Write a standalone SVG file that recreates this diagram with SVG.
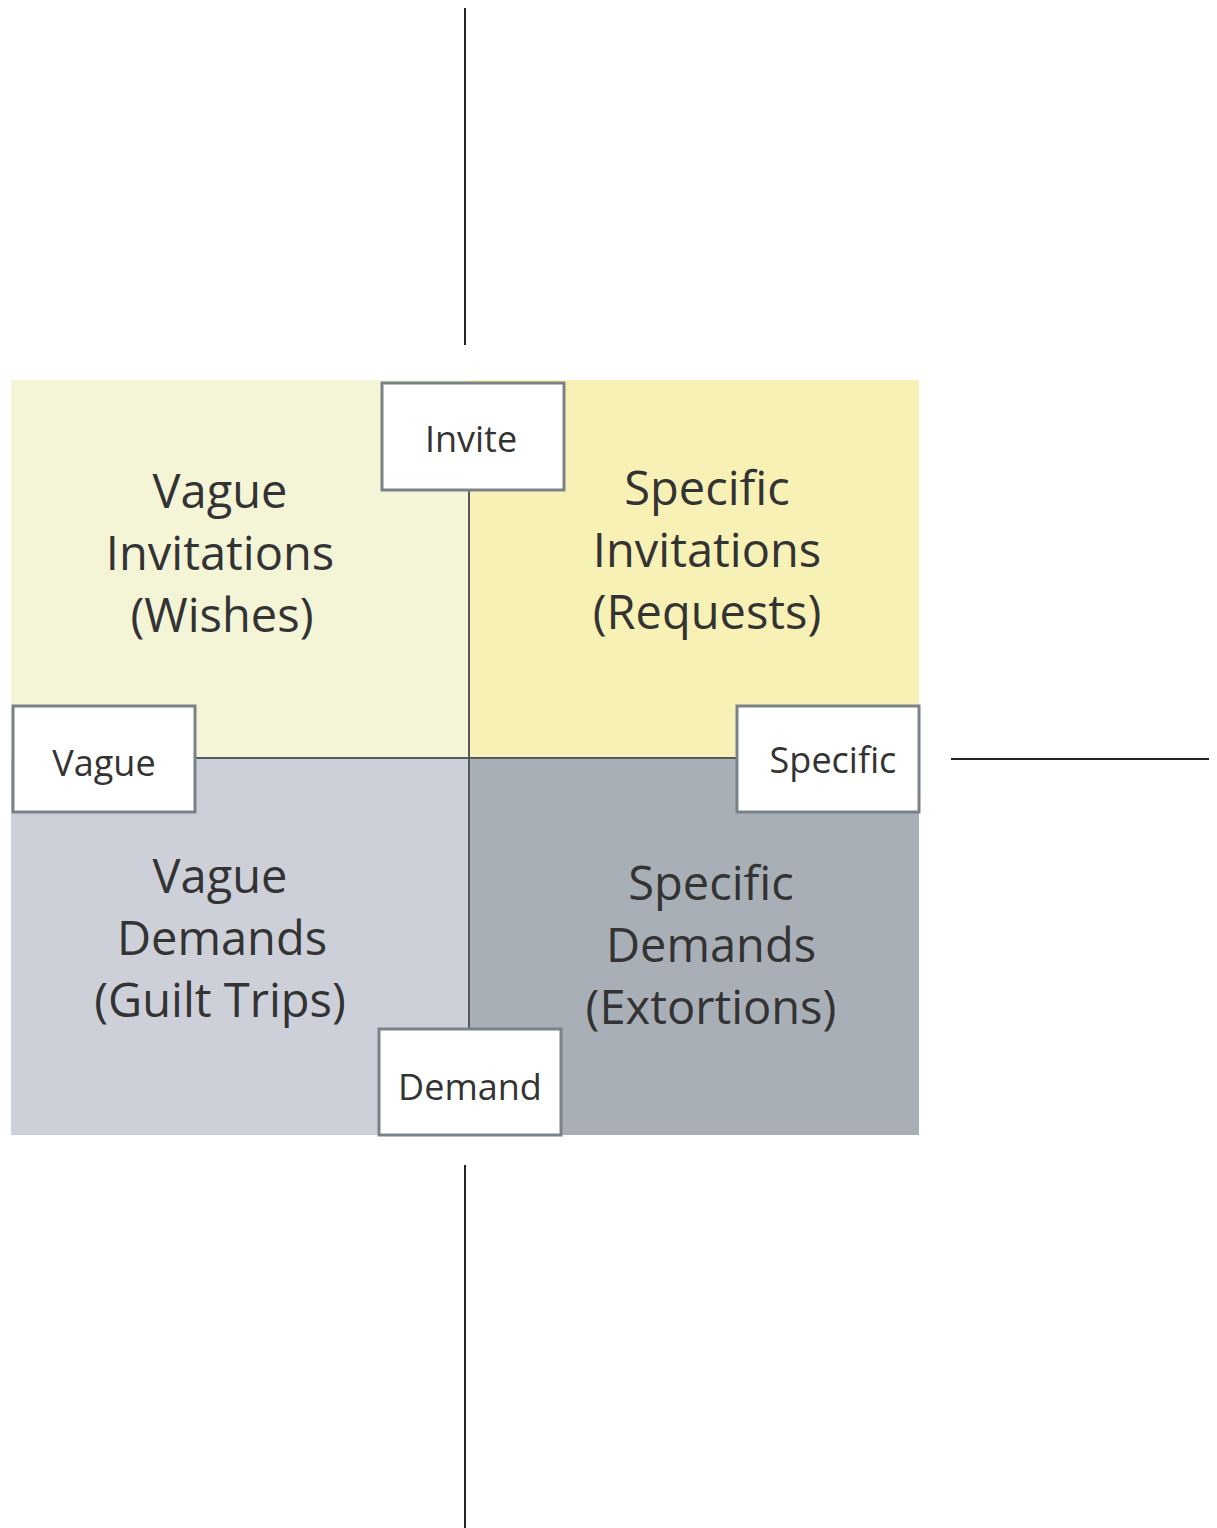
<svg xmlns="http://www.w3.org/2000/svg" width="1217" height="1528" viewBox="0 0 1217 1528">
<style>
.q{font-family:"Open Sans","Noto Sans",sans-serif;font-size:47px;fill:#333;text-anchor:middle}
.l{font-family:"Open Sans","Noto Sans",sans-serif;font-size:36px;fill:#333;text-anchor:middle}
.box{fill:#fff;stroke:#7b8287;stroke-width:3}
.inner{stroke:#555a5e;stroke-width:2;fill:none}
.outer{stroke:#222;stroke-width:2;fill:none}
</style>
<rect width="1217" height="1528" fill="#fff"/>
<g id="quadrants">
<rect id="q-tl" x="11" y="380" width="458" height="378" fill="#f4f5d7"/>
<rect id="q-tr" x="469" y="380" width="450" height="378" fill="#f7f1b5"/>
<rect id="q-bl" x="11" y="758" width="458" height="377" fill="#cdd0d8"/>
<rect id="q-br" x="469" y="758" width="450" height="377" fill="#a9afb7"/>
</g>
<g id="connectors">
<line class="inner" x1="469" y1="490" x2="469" y2="1029"/>
<line class="inner" x1="195" y1="758" x2="737" y2="758"/>
<line class="outer" x1="465" y1="8" x2="465" y2="345"/>
<line class="outer" x1="465" y1="1165" x2="465" y2="1528"/>
<line class="outer" x1="951" y1="759" x2="1209" y2="759"/>
</g>
<g id="text-tl"><text class="q" x="220" y="508">Vague</text><text class="q" x="220" y="570">Invitations</text><text class="q" x="222" y="632">(Wishes)</text></g>
<g id="text-tr"><text class="q" x="707" y="505">Specific</text><text class="q" x="707" y="567">Invitations</text><text class="q" x="707" y="629">(Requests)</text></g>
<g id="text-bl"><text class="q" x="220" y="893">Vague</text><text class="q" x="222" y="955">Demands</text><text class="q" x="220" y="1017">(Guilt Trips)</text></g>
<g id="text-br"><text class="q" x="711" y="900">Specific</text><text class="q" x="711" y="962">Demands</text><text class="q" x="711" y="1024">(Extortions)</text></g>
<g id="invite"><rect class="box" x="382" y="383" width="182" height="107"/><text class="l" x="471" y="452">Invite</text></g>
<g id="vague"><rect class="box" x="13" y="706" width="182" height="106"/><text class="l" x="104" y="776">Vague</text></g>
<g id="specific"><rect class="box" x="737" y="706" width="182" height="106"/><text class="l" x="833" y="773">Specific</text></g>
<g id="demand"><rect class="box" x="379" y="1029" width="182" height="106"/><text class="l" x="470" y="1100">Demand</text></g>
</svg>
